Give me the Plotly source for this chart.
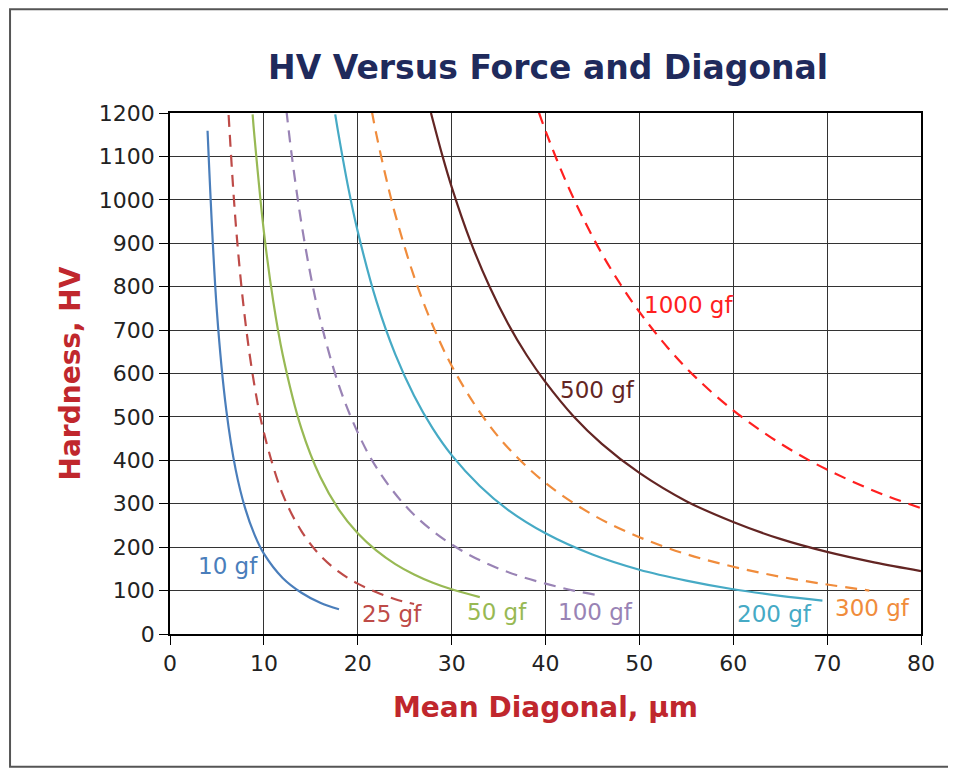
import plotly.graph_objects as go

# HV readings (kgf/mm^2) against mean diagonal (um)
d_10 = [4, 5, 6, 7, 8, 9, 10, 12, 14, 16, 18]
hv_10 = [1159, 742, 515, 378, 290, 229, 185, 129, 95, 72, 57]

d_25 = [6, 7, 8, 9, 10, 12, 14, 16, 18, 20, 22, 24, 26]
hv_25 = [1288, 946, 724, 572, 464, 322, 237, 181, 143, 116, 96, 80, 69]

d_50 = [8.8, 9, 10, 11, 12, 14, 16, 18, 20, 22, 24, 26, 28, 30, 33]
hv_50 = [1197, 1145, 927, 766, 644, 473, 362, 286, 232, 192, 161, 137, 118, 103, 85]

d_100 = [12.4, 13, 14, 15, 16, 18, 20, 22, 25, 28, 31, 34, 37, 40, 43, 46]
hv_100 = [1206, 1097, 946, 824, 724, 572, 464, 383, 297, 237, 193, 160, 135, 116, 100, 88]

d_200 = [17.6, 18, 19, 20, 22, 24, 26, 28, 30, 33, 36, 40, 45, 50, 55, 60, 65, 69.5]
hv_200 = [1197, 1145, 1027, 927, 766, 644, 549, 473, 412, 341, 286, 232, 183, 148, 123, 103, 88, 77]

d_300 = [21.5, 22, 23, 24, 26, 28, 30, 33, 36, 40, 45, 50, 55, 60, 65, 70, 74.5]
hv_300 = [1204, 1149, 1052, 966, 823, 710, 618, 511, 429, 348, 275, 223, 184, 155, 132, 114, 100]

d_500 = [27.8, 29, 30, 32, 34, 36, 38, 40, 43, 46, 50, 55, 60, 65, 70, 75, 80]
hv_500 = [1200, 1103, 1030, 905, 802, 715, 642, 580, 501, 438, 371, 306, 258, 219, 189, 165, 145]

d_1000 = [39.3, 40, 42, 44, 46, 48, 50, 53, 56, 60, 64, 68, 72, 76, 80]
hv_1000 = [1201, 1159, 1051, 958, 876, 805, 742, 660, 591, 515, 453, 401, 358, 321, 290]

series = [
    ('10 gf', d_10, hv_10, '#4a7ebb', 'solid', 6.2, 157),
    ('25 gf', d_25, hv_25, '#be4b48', 'dash', 23.7, 46),
    ('50 gf', d_50, hv_50, '#98b954', 'solid', 34.8, 51),
    ('100 gf', d_100, hv_100, '#9983b5', 'dash', 45.3, 51),
    ('200 gf', d_200, hv_200, '#46aac5', 'solid', 64.4, 46),
    ('300 gf', d_300, hv_300, '#f08c3c', 'dash', 74.8, 60),
    ('500 gf', d_500, hv_500, '#632523', 'solid', 45.5, 562),
    ('1000 gf', d_1000, hv_1000, '#ff2020', 'dash', 55.2, 758),
]

fig = go.Figure()
for name, d, hv, color, dash, lx, ly in series:
    fig.add_trace(go.Scatter(
        x=d, y=hv, mode='lines', name=name,
        line=dict(color=color, width=2.2, shape='spline',
                  dash='12px,8px' if dash == 'dash' else 'solid'),
    ))
    fig.add_annotation(x=lx, y=ly, text=name, showarrow=False,
                       font=dict(family='DejaVu Sans', size=23, color=color))

fig.update_layout(
    width=956, height=769,
    margin=dict(l=162, r=43, t=105, b=143),
    paper_bgcolor='white', plot_bgcolor='white',
    showlegend=False,
    font=dict(family='DejaVu Sans', color='#222222'),
    title=dict(text='<b>HV Versus Force and Diagonal</b>', x=0.565, xanchor='center',
               y=0.923, yanchor='middle',
               font=dict(family='DejaVu Sans', size=33, color='#1f2a5c')),
)
fig.update_xaxes(
    range=[0, 80], dtick=10, showgrid=True, gridcolor='#333333', gridwidth=1,
    showline=True, linecolor='black', linewidth=1.5, mirror=True,
    ticks='outside', ticklen=9, tickcolor='black', zeroline=False,
    tickfont=dict(size=22, color='#222222'),
    title=dict(text='<b>Mean Diagonal, µm</b>', standoff=22,
               font=dict(family='DejaVu Sans', size=28, color='#c0272d')),
)
fig.update_yaxes(
    range=[0, 1200], dtick=100, showgrid=True, gridcolor='#333333', gridwidth=1,
    showline=True, linecolor='black', linewidth=1.5, mirror=True,
    ticks='outside', ticklen=9, tickcolor='black', zeroline=False,
    tickfont=dict(size=22, color='#222222'),
    title=dict(text='<b>Hardness, HV</b>', standoff=10,
               font=dict(family='DejaVu Sans', size=28, color='#c0272d')),
)

# outer chart frame
fig.add_shape(type='rect', xref='paper', yref='paper',
              x0=-0.213, x1=1.2, y0=-0.255, y1=1.199,
              line=dict(color='#555555', width=2), layer='below')

fig.write_html("out.html")
